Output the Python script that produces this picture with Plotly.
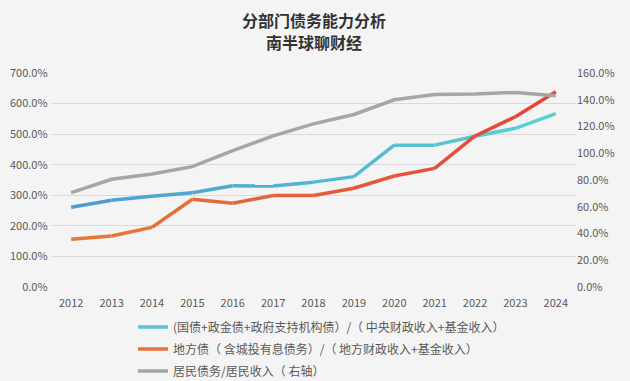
import plotly.graph_objects as go

years = ["2012","2013","2014","2015","2016","2017","2018","2019","2020","2021","2022","2023","2024"]
central = [261, 284, 297, 308, 331, 330, 343, 361, 464, 464, 493, 519, 567]
local = [156, 167, 195, 287, 274, 299, 299, 323, 363, 388, 494, 557, 639]
household = [70.5, 80.5, 84.5, 90, 102, 113, 122, 129, 140, 144, 144.3, 145.5, 143]

names = ["(国债+政金债+政府支持机构债）/（ 中央财政收入+基金收入）",
         "地方债（ 含城投有息债务）/（ 地方财政收入+基金收入）",
         "居民债务/居民收入（ 右轴）"]

font = "Noto Sans CJK SC"


def lerp(c1, c2, t):
    a = [int(c1[i:i + 2], 16) for i in (1, 3, 5)]
    b = [int(c2[i:i + 2], 16) for i in (1, 3, 5)]
    return "rgb(%d,%d,%d)" % tuple(round(a[k] + (b[k] - a[k]) * t) for k in range(3))


fig = go.Figure()


def add_gradient(vals, c1, c2, name, legend, swatch, yaxis="y"):
    n = len(years)
    for i in range(n - 1):
        t = (i + 0.5) / (n - 1)
        fig.add_trace(go.Scatter(x=years[i:i + 2], y=vals[i:i + 2], mode="lines",
                                 line=dict(color=lerp(c1, c2, t), width=3.5),
                                 yaxis=yaxis, showlegend=False, hoverinfo="skip"))
    # legend entry
    fig.add_trace(go.Scatter(x=[years[0]], y=[None], mode="lines", name=name,
                             line=dict(color=swatch, width=3.5), yaxis=yaxis,
                             legend=legend, showlegend=True))


add_gradient([v / 100 for v in central], "#4a9bd3", "#5cd0d0", names[0], "legend", "#5bc0d8")
add_gradient([v / 100 for v in local], "#e37b3a", "#e8413a", names[1], "legend2", "#e8703e")
fig.add_trace(go.Scatter(x=years, y=[v / 100 for v in household], name=names[2], mode="lines",
                         line=dict(color="#a6a6a6", width=3.5), yaxis="y2", legend="legend3"))

leg = dict(x=133 / 630, xanchor="left", xref="container", yref="container", yanchor="middle",
           orientation="h", font=dict(size=12, color="#595959"), bgcolor="rgba(0,0,0,0)",
           itemwidth=30)

fig.update_layout(
    width=630, height=381,
    paper_bgcolor="#f4f4f4", plot_bgcolor="#f4f4f4",
    margin=dict(l=51, r=54, t=73, b=94, autoexpand=False),
    font=dict(family=font, size=11, color="#595959"),
    xaxis=dict(type="category", range=[-0.5, 12.5], showgrid=False, showline=False,
               ticks="outside", ticklen=6, tickcolor="rgba(0,0,0,0)",
               tickfont=dict(size=11, color="#595959")),
    yaxis=dict(range=[0, 7], dtick=1, tickformat=".1%", gridcolor="#d9d9d9",
               zeroline=False, showline=False, tickfont=dict(size=11, color="#595959"),
               ticksuffix=" "),
    yaxis2=dict(range=[0, 1.6], dtick=0.2, tickformat=".1%", overlaying="y", side="right",
                showgrid=False, zeroline=False, showline=False,
                tickfont=dict(size=11, color="#595959")),
    legend=dict(leg, y=1 - 327 / 381),
    legend2=dict(leg, y=1 - 349 / 381),
    legend3=dict(leg, y=1 - 371 / 381),
    annotations=[
        dict(text="<b>分部门债务能力分析</b>", xref="paper", yref="paper", x=0.5,
             y=(287 - 20) / 214, yanchor="middle", showarrow=False,
             font=dict(family=font, size=16, color="#333333")),
        dict(text="<b>南半球聊财经</b>", xref="paper", yref="paper", x=0.5,
             y=(287 - 42) / 214, yanchor="middle", showarrow=False,
             font=dict(family=font, size=16, color="#333333")),
    ],
)
fig.write_html("out.html", config={"displayModeBar": False},
               post_script="document.body.style.margin='0';document.body.style.background='#f4f4f4';")
